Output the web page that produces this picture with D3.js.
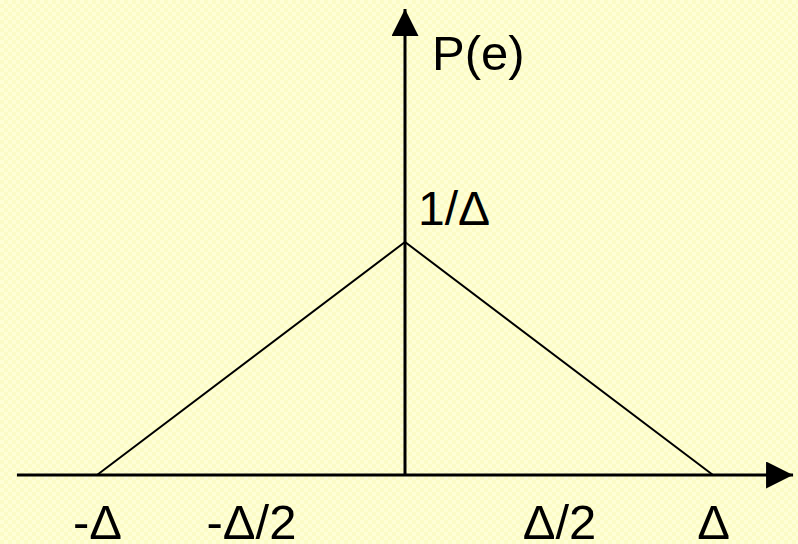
<!DOCTYPE html>
<html>
<head>
<meta charset="utf-8">
<script src="https://cdn.jsdelivr.net/npm/d3@7"></script>
<style>
  body { margin: 0; background: #fcfccb; }
  svg { display: block; }
  text { font-family: "Liberation Sans", Arial, sans-serif; fill: #000; }
</style>
</head>
<body>
<div class="chart"></div>
<script>
// error e in units of delta, density in units of 1/delta
var tickValues = [-1, -0.5, 0.5, 1];
var tickLabels = ["-Δ", "-Δ/2", "Δ/2", "Δ"];
var pdfE = [-1, 0, 1];
var pdfP = [0, 1, 0];
var peakLabel = "1/Δ";
var yLabel = "P(e)";

var width = 798, height = 544;

var x = d3.scaleLinear().domain([-1, 1]).range([97, 713]);
var y = d3.scaleLinear().domain([0, 1]).range([475, 242]);

var svg = d3.select(".chart")
    .append("svg")
    .attr("width", width)
    .attr("height", height);

// textured pale yellow background
var defs = svg.append("defs");
var pat = defs.append("pattern")
    .attr("id", "bg")
    .attr("width", 8)
    .attr("height", 8)
    .attr("patternUnits", "userSpaceOnUse");
pat.append("rect").attr("width", 8).attr("height", 8).attr("fill", "#fbfbc6");
pat.append("rect").attr("width", 4).attr("height", 4).attr("fill", "#fefed6");
pat.append("rect").attr("x", 4).attr("y", 4).attr("width", 4).attr("height", 4).attr("fill", "#fefed6");
svg.append("rect").attr("width", width).attr("height", height).attr("fill", "url(#bg)");

// arrow heads
defs.append("marker")
    .attr("id", "arrow")
    .attr("viewBox", "0 0 10 10")
    .attr("refX", 10)
    .attr("refY", 5)
    .attr("markerWidth", 27)
    .attr("markerHeight", 27)
    .attr("markerUnits", "userSpaceOnUse")
    .attr("orient", "auto")
    .append("path")
    .attr("d", "M0,0L10,5L0,10Z")
    .attr("fill", "#000");

// x axis line
svg.append("line")
    .attr("x1", x(-1.26)).attr("y1", y(0))
    .attr("x2", x(1.26)).attr("y2", y(0))
    .attr("stroke", "#000")
    .attr("stroke-width", 3)
    .attr("marker-end", "url(#arrow)");

// y axis line
svg.append("line")
    .attr("x1", x(0)).attr("y1", y(0))
    .attr("x2", x(0)).attr("y2", y(2.0))
    .attr("stroke", "#000")
    .attr("stroke-width", 3)
    .attr("marker-end", "url(#arrow)");

// triangular pdf
var line = d3.line()
    .x(function (d, i) { return x(pdfE[i]); })
    .y(function (d, i) { return y(pdfP[i]); });

svg.append("path")
    .datum(pdfE)
    .attr("d", line)
    .attr("fill", "none")
    .attr("stroke", "#000")
    .attr("stroke-width", 2);

// tick labels under the axis
var xAxis = svg.append("g")
    .attr("transform", "translate(0," + y(0) + ")")
    .call(d3.axisBottom(x)
        .tickValues(tickValues)
        .tickSize(0)
        .tickPadding(0)
        .tickFormat(function (d, i) { return tickLabels[i]; }));
xAxis.select(".domain").remove();
xAxis.selectAll("text")
    .attr("dy", null)
    .attr("y", 64)
    .style("font-size", "49px")
    .style("font-family", "'Liberation Sans', Arial, sans-serif");

// labels on the vertical axis
svg.append("text")
    .attr("x", x(0) + 13)
    .attr("y", y(1) - 17)
    .style("font-size", "48px")
    .text(peakLabel);

svg.append("text")
    .attr("x", x(0) + 27)
    .attr("y", 70)
    .style("font-size", "49px")
    .text(yLabel);
</script>
</body>
</html>
